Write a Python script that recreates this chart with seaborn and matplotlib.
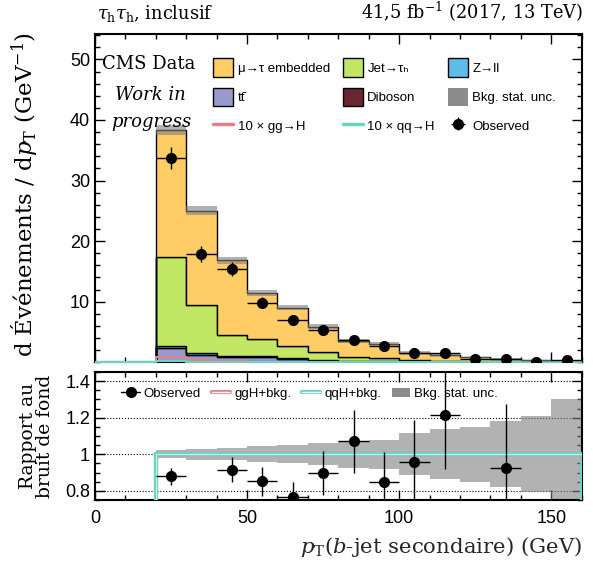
import numpy as np
import pandas as pd
import matplotlib

matplotlib.use("Agg")
import matplotlib.pyplot as plt
from matplotlib.lines import Line2D
from matplotlib.patches import Patch
from matplotlib.legend_handler import HandlerTuple
from matplotlib.ticker import MultipleLocator, FuncFormatter
import seaborn as sns

# binning: p_T of the subleading b-jet, 10 GeV bins from 0 to 160
edges = np.arange(0, 170, 10)
centers = edges[:-1] + 5

# background contributions (events / GeV), one value per bin
embedded = [0, 0, 21.0, 15.5, 12.3, 7.6, 6.3, 4.15, 2.7, 2.41, 1.27, 1.05, 0.70, 0.47, 0.25, 0.17]
jet_fakes = [0, 0, 14.6, 8.05, 3.45, 2.91, 2.04, 1.43, 0.59, 0.51, 0.25, 0.12, 0.04, 0.04, 0.02, 0.01]
zll = [0, 0, 0.40, 0.30, 0.15, 0.10, 0.08, 0.05, 0.04, 0.03, 0.02, 0.02, 0.01, 0.01, 0.01, 0.01]
ttbar = [0, 0, 2.20, 1.10, 0.85, 0.85, 0.55, 0.25, 0.15, 0.10, 0.05, 0.05, 0.04, 0.03, 0.02, 0.02]
diboson = [0, 0, 0.10, 0.05, 0.05, 0.04, 0.03, 0.02, 0.02, 0.01, 0.01, 0.01, 0.01, 0.0, 0.0, 0.0]
bkg_rel_unc = [0, 0, 0.022, 0.030, 0.033, 0.044, 0.050, 0.060, 0.073, 0.080, 0.116, 0.136, 0.150, 0.180, 0.207, 0.300]

# signals, scaled by 10
ggh_x10 = [0, 0, 0.90, 0.40, 0.15, 0.12, 0.08, 0.06, 0.04, 0.03, 0.02, 0.02, 0.01, 0.01, 0.01, 0.0]
qqh_x10 = [0, 0, 0.25, 0.10, 0.08, 0.06, 0.05, 0.04, 0.03, 0.02, 0.02, 0.01, 0.01, 0.01, 0.0, 0.0]

# data
observed = [np.nan, np.nan, 33.7, 17.9, 15.4, 9.8, 6.9, 5.3, 3.75, 2.6, 1.53, 1.52, 0.50, 0.51, 0.10, 0.40]
observed_err = [np.nan, np.nan, 1.8, 1.3, 1.18, 0.92, 0.72, 0.71, 0.60, 0.49, 0.37, 0.37, 0.22, 0.19, 0.10, 0.20]

procs = ["μ→τ embedded", "Jet→τₕ", "Z→ll", "tt̄", "Diboson"]
colors = {
    "μ→τ embedded": "#ffcc66",
    "Jet→τₕ": "#c1e765",
    "Z→ll": "#5cbee8",
    "tt̄": "#9999cc",
    "Diboson": "#6a2535",
}
c_ggh = "#e0808a"
c_qqh = "#6ad3c1"
c_unc = "#7f7f7f"

SERIF = ["DejaVu Serif"]
SANS = ["Liberation Sans", "DejaVu Sans"]

sns.set_theme(style="ticks")
plt.rcParams["font.family"] = SANS
plt.rcParams["mathtext.fontset"] = "dejavuserif"
plt.rcParams["axes.linewidth"] = 1.5
plt.rcParams["axes.edgecolor"] = "black"
plt.rcParams["xtick.color"] = "black"
plt.rcParams["ytick.color"] = "black"
plt.rcParams["text.color"] = "black"

fig = plt.figure(figsize=(5.93, 5.66), dpi=100)
ax = fig.add_axes([0.160, 0.360, 0.821, 0.580])
ax2 = fig.add_axes([0.160, 0.1166, 0.821, 0.2262], sharex=ax)

# ---- stacked backgrounds
df = pd.DataFrame({
    "pt": np.tile(centers, len(procs)),
    "w": np.concatenate([embedded, jet_fakes, zll, ttbar, diboson]),
    "process": np.repeat(procs, len(centers)),
})
sns.histplot(data=df, x="pt", weights="w", hue="process", hue_order=procs,
             multiple="stack", bins=edges.tolist(), element="step", palette=colors,
             alpha=1, edgecolor="black", linewidth=1, legend=False, ax=ax)

total = np.sum([embedded, jet_fakes, zll, ttbar, diboson], axis=0)
unc = total * np.array(bkg_rel_unc)
ax.stairs(total + unc, edges, baseline=total - unc, fill=True,
          color=c_unc, alpha=0.6, lw=0, zorder=3)

ax.stairs(ggh_x10, edges, baseline=0, color=c_ggh, lw=1.5, zorder=4)
ax.stairs(qqh_x10, edges, baseline=0, color=c_qqh, lw=1.5, zorder=4, clip_on=False)

obs = np.array(observed)
obs_err = np.array(observed_err)
h_obs = ax.errorbar(centers, obs, yerr=obs_err, xerr=5, fmt="o", color="black",
                    ms=7, elinewidth=1, capsize=0, zorder=5)

ax.set_xlim(0, 160)
ax.set_ylim(0, 54.2)
ax.set_xlabel("")
ax.set_ylabel("")
ax.set_yticks([10, 20, 30, 40, 50])
ax.yaxis.set_minor_locator(MultipleLocator(2))
ax.xaxis.set_major_locator(MultipleLocator(50))
ax.xaxis.set_minor_locator(MultipleLocator(10))
ax.tick_params(labelbottom=False)

# ---- ratio panel
with np.errstate(divide="ignore", invalid="ignore"):
    ratio = np.where(total > 0, obs / total, np.nan)
    ratio_err = np.where(total > 0, obs_err / total, np.nan)
    rel = np.array(bkg_rel_unc)
    r_ggh = np.where(total > 0, (total + np.array(ggh_x10) / 10) / total, 0)
    r_qqh = np.where(total > 0, (total + np.array(qqh_x10) / 10) / total, 0)

rlo, rhi = 0.75, 1.45
ax2.stairs(np.where(total > 0, 1 + rel, np.nan), edges,
           baseline=np.where(total > 0, 1 - rel, np.nan), fill=True,
           color=c_unc, alpha=0.6, lw=0, zorder=2)
ax2.stairs(r_ggh, edges, color=c_ggh, lw=3, zorder=3)
ax2.stairs(r_qqh, edges, color=c_qqh, lw=3, zorder=3)
ax2.stairs(r_qqh, edges, color="#c9f1e9", lw=0.8, zorder=3)
inside = (ratio >= rlo) & (ratio <= rhi)
ax2.errorbar(centers[inside], ratio[inside], yerr=ratio_err[inside], xerr=5,
             fmt="o", color="black", ms=7, elinewidth=1, capsize=0, zorder=5)

ax2.set_ylim(rlo, rhi)
ax2.set_yticks([0.8, 1.0, 1.2, 1.4])
ax2.yaxis.set_major_formatter(FuncFormatter(lambda v, p: f"{v:g}"))
ax2.yaxis.set_minor_locator(MultipleLocator(0.05))
ax2.yaxis.grid(True, linestyle=":", color="black", lw=0.8, zorder=1)
ax2.set_axisbelow(True)

for a in (ax, ax2):
    a.tick_params(which="both", direction="in", top=True, right=True,
                  labelsize=13, width=1)
    a.tick_params(which="major", length=7)
    a.tick_params(which="minor", length=3.5)
ax2.tick_params(axis="x", which="major", pad=7)

ax2.set_xlabel("$p_\\mathrm{T}$($b$-jet secondaire) (GeV)", loc="right",
               fontsize=15.3, family=SERIF, labelpad=6)

fig.text(0.041, 0.944, "d Événements / d$p_\\mathrm{T}$ (GeV$^{-1}$)", rotation=90,
         ha="center", va="top", fontsize=16.5, family=SERIF)
fig.text(0.062, 0.229, "Rapport au\nbruit de fond", rotation=90, ha="center",
         va="center", fontsize=13.5, family=SERIF, linespacing=0.95)

fig.text(0.163, 0.957, "$\\tau_\\mathrm{h}\\tau_\\mathrm{h}$, inclusif",
         ha="left", va="bottom", fontsize=12.8, family=SERIF)
fig.text(0.983, 0.957, "41,5 fb$^{-1}$ (2017, 13 TeV)",
         ha="right", va="bottom", fontsize=12.8, family=SERIF)

ax.text(0.015, 0.909, "CMS Data", transform=ax.transAxes, ha="left", va="center",
        fontsize=13, family=SERIF)
ax.text(0.115, 0.773, "Work in\nprogress", transform=ax.transAxes, ha="center",
        va="center", fontsize=13, family=SERIF, style="italic", linespacing=1.7)

# ---- legends
def box(c):
    return Patch(facecolor=c, edgecolor="black", lw=1)

handles = [
    box(colors["μ→τ embedded"]), box(colors["tt̄"]), Line2D([], [], color=c_ggh, lw=2.5),
    box(colors["Jet→τₕ"]), box(colors["Diboson"]), Line2D([], [], color=c_qqh, lw=2.5),
    box(colors["Z→ll"]), Patch(facecolor="#8c8c8c", edgecolor="none"), h_obs,
]
labels = [
    "μ→τ embedded", "tt̄", "10 × gg→H",
    "Jet→τₕ", "Diboson", "10 × qq→H",
    "Z→ll", "Bkg. stat. unc.", "Observed",
]
ax.legend(handles, labels, loc="upper left", bbox_to_anchor=(0.232, 0.942), ncol=3,
          frameon=False, prop={"family": SANS, "size": 9.5}, handlelength=1.5,
          handleheight=1.8, labelspacing=0.8, columnspacing=1.0, handletextpad=0.35,
          borderaxespad=0)

rhandles = [
    Line2D([], [], color="black", marker="o", ms=7, lw=1),
    (Line2D([], [], color=c_ggh, lw=3), Line2D([], [], color="white", lw=1)),
    (Line2D([], [], color=c_qqh, lw=3), Line2D([], [], color="white", lw=1)),
    Patch(facecolor="#8c8c8c", edgecolor="none"),
]
ax2.legend(rhandles, ["Observed", "ggH+bkg.", "qqH+bkg.", "Bkg. stat. unc."],
           loc="upper left", bbox_to_anchor=(0.03, 0.97), ncol=4, frameon=False,
           prop={"family": SANS, "size": 9.5}, handlelength=1.4, columnspacing=0.8,
           handletextpad=0.3, handler_map={tuple: HandlerTuple(ndivide=1, pad=0)})

fig.savefig("out.png", dpi=100)
